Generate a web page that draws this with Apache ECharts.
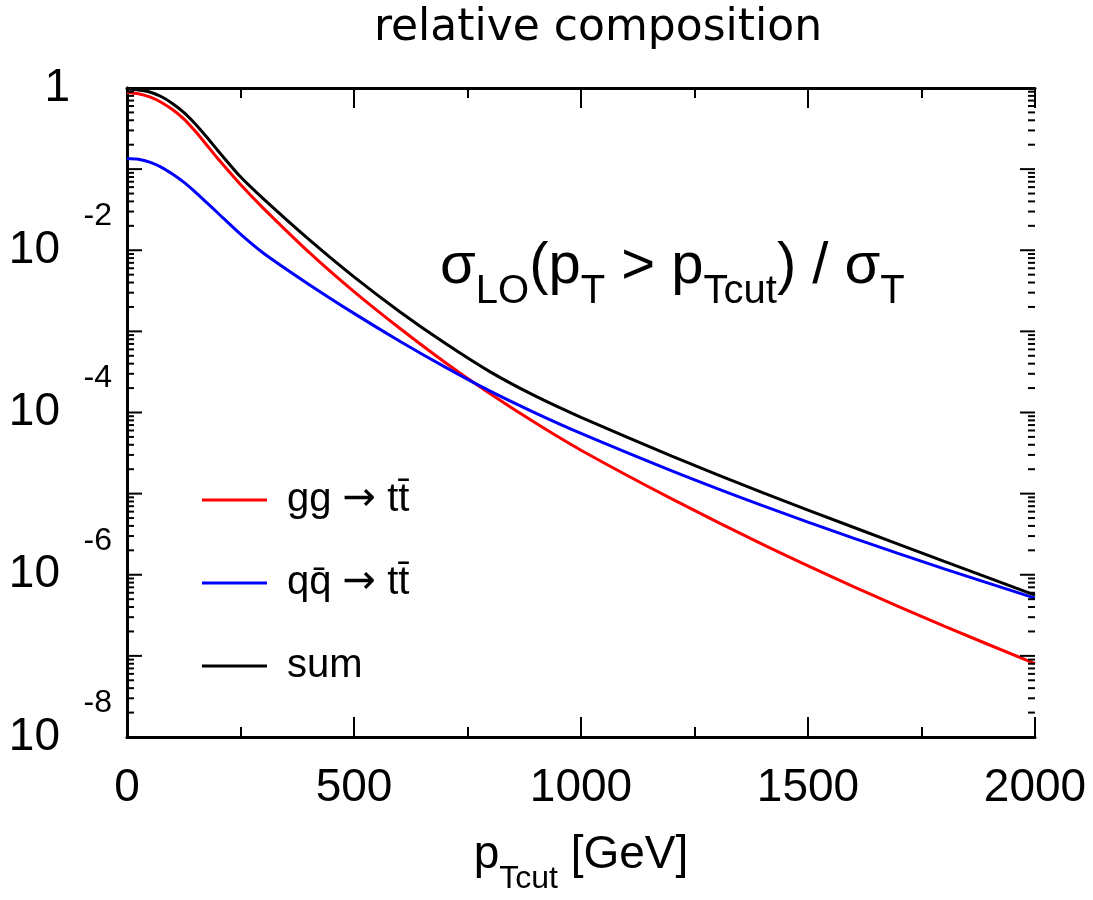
<!DOCTYPE html>
<html><head><meta charset="utf-8">
<script src="https://cdn.jsdelivr.net/npm/echarts@6/dist/echarts.min.js"></script>
<style>html,body{margin:0;padding:0;background:#fff}#c{width:1093px;height:900px}</style>
</head><body><div id="c"></div>
<script>
// ---- data ----
const pTcut = [0, 25, 50, 75, 100, 125, 150, 175, 200, 250, 300, 400, 500, 600, 700, 800, 900, 1000, 1200, 1400, 1600, 1800, 2000];
const ggValues = [0.881, 0.851, 0.776, 0.668, 0.543, 0.417, 0.295, 0.200, 0.135, 0.0646, 0.0331, 0.00955, 3.09e-3, 1.10e-3, 4.17e-4, 1.70e-4, 7.41e-5, 3.43e-5, 8.61e-6, 2.37e-6, 7.16e-7, 2.32e-7, 8.04e-8];
const qqValues = [0.135, 0.132, 0.122, 0.106, 0.0871, 0.0692, 0.0525, 0.0389, 0.0288, 0.0158, 0.00927, 0.00382, 1.667e-3, 7.62e-4, 3.65e-4, 1.83e-4, 9.82e-5, 5.52e-5, 1.91e-5, 7.11e-6, 2.83e-6, 1.18e-6, 5.15e-7];
const sumValues = [0.973, 0.944, 0.891, 0.785, 0.646, 0.501, 0.363, 0.251, 0.170, 0.0804, 0.0433, 0.01368, 4.69e-3, 1.762e-3, 7.18e-4, 3.17e-4, 1.589e-4, 8.73e-5, 2.89e-5, 1.026e-5, 3.85e-6, 1.462e-6, 5.61e-7];
const seriesNames = ['gg \u2192 tt\u0304', 'qq\u0304 \u2192 tt\u0304', 'sum'];
const seriesColors = ['#ff0000', '#0000ff', '#000000'];
const xTicks = [0, 500, 1000, 1500, 2000];
const yMajorTicks = [1e-8, 1e-7, 1e-6, 1e-5, 1e-4, 1e-3, 1e-2, 1e-1, 1];
const yLabelValues = [1e-8, 1e-6, 1e-4, 1e-2, 1];
const yMinorTicks = [];
for (let k = -8; k < 0; k++) for (let m = 2; m <= 9; m++) yMinorTicks.push(Number((m * Math.pow(10, k)).toPrecision(3)));

const FONT = 'Liberation Sans';
const chart = echarts.init(document.getElementById('c'), null, {renderer: 'canvas'});

function pairs(vals) { return pTcut.map((x, i) => [x, vals[i]]); }

function yLabel(v) {
  const e = Math.round(Math.log10(v));
  if (e === 0) return '{one|1}{sp1|}';
  return '{e|' + e + '}\n{b|10}{sp|}\n{e| }';
}

const legendRich = {
  'gg \u2192 tt\u0304': '{t|gg }{a|\u2192}{t| tt\u0304}',
  'qq\u0304 \u2192 tt\u0304': '{t|qq\u0304 }{a|\u2192}{t| tt\u0304}',
  'sum': '{t|sum}'
};

// y tick marks on both frame sides, placed through the axis scales
const tickData = yMajorTicks.map(v => [v, 15]).concat(yMinorTicks.map(v => [v, 7]));
function renderTick(params, api) {
  const v = api.value(0), len = api.value(1);
  const pl = api.coord([0, v]);
  const pr = api.coord([2000, v]);
  const st = {stroke: '#000', lineWidth: 2};
  return {type: 'group', children: [
    {type: 'line', shape: {x1: pl[0], y1: pl[1], x2: pl[0] + len, y2: pl[1]}, style: st},
    {type: 'line', shape: {x1: pr[0] - len, y1: pr[1], x2: pr[0], y2: pr[1]}, style: st}
  ]};
}

const yBase = {
  type: 'log', logBase: 10, min: 1e-8, max: 1, gridIndex: 0,
  splitLine: {show: false}, minorTick: {show: false}, minorSplitLine: {show: false}
};

const option = {
  backgroundColor: '#fff',
  animation: false,
  title: {
    text: 'relative composition', left: 593, top: 2, textAlign: 'center',
    textStyle: {fontFamily: 'DejaVu Sans', fontSize: 44, fontWeight: 'normal', color: '#000'}
  },
  grid: {left: 127, right: 58, top: 88, bottom: 158, containLabel: false},
  legend: {
    orient: 'vertical', left: 197, top: 472, itemGap: 37,
    itemWidth: 65, itemHeight: 3, icon: 'rect',
    data: seriesNames,
    formatter: n => legendRich[n],
    textStyle: {
      fontFamily: FONT, fontSize: 40, color: '#000', lineHeight: 46, padding: [0, 0, 0, 15],
      rich: {
        t: {fontFamily: FONT, fontSize: 40, color: '#000', lineHeight: 46},
        a: {fontFamily: 'DejaVu Sans', fontSize: 40, color: '#000', lineHeight: 46}
      }
    }
  },
  xAxis: [
    {
      type: 'value', min: 0, max: 2000, interval: 500, position: 'bottom',
      axisLine: {show: true, lineStyle: {color: '#000', width: 3}},
      axisTick: {show: true, inside: true, length: 20, lineStyle: {color: '#000', width: 2}},
      minorTick: {show: true, splitNumber: 2, length: 10, lineStyle: {color: '#000', width: 2}},
      splitLine: {show: false},
      axisLabel: {margin: 28, fontFamily: FONT, fontSize: 46, color: '#000',
        customValues: xTicks, formatter: v => String(v)},
      name: '{m|p}{s|Tcut}{m| [GeV]}', nameLocation: 'middle', nameGap: 95,
      nameTextStyle: {
        rich: {
          m: {fontFamily: FONT, fontSize: 46, color: '#000', verticalAlign: 'top'},
          s: {fontFamily: FONT, fontSize: 32, color: '#000', verticalAlign: 'top', padding: [31, 0, 0, 0]}
        }
      }
    },
    {
      type: 'value', min: 0, max: 2000, interval: 500, position: 'top',
      axisLine: {show: true, lineStyle: {color: '#000', width: 3}},
      axisTick: {show: true, inside: true, length: 20, lineStyle: {color: '#000', width: 2}},
      minorTick: {show: true, splitNumber: 2, length: 10, lineStyle: {color: '#000', width: 2}},
      splitLine: {show: false}, axisLabel: {show: false}
    }
  ],
  yAxis: [
    Object.assign({}, yBase, {
      position: 'left',
      axisLine: {show: true, lineStyle: {color: '#000', width: 3}},
      axisTick: {show: false},
      axisLabel: {
        show: true, margin: 15, customValues: yLabelValues, formatter: yLabel, align: 'right', verticalAlign: 'middle',
        rich: {
          e: {fontFamily: FONT, fontSize: 32, color: '#000', lineHeight: 22, align: 'right'},
          b: {fontFamily: FONT, fontSize: 46, color: '#000', lineHeight: 46},
          sp: {width: 52, lineHeight: 46},
          one: {fontFamily: FONT, fontSize: 46, color: '#000', lineHeight: 46},
          sp1: {width: 42, lineHeight: 46}
        }
      }
    }),
    Object.assign({}, yBase, {
      position: 'right',
      axisLine: {show: true, lineStyle: {color: '#000', width: 3}},
      axisTick: {show: false},
      axisLabel: {show: false}
    })
  ],
  graphic: [{
    type: 'text', left: 440, top: 238, z: 10,
    style: {
      text: '{m|\u03c3}{s|LO}{m|(p}{s|T}{m| > p}{s|Tcut}{m|) / \u03c3}{s|T}',
      rich: {
        m: {fontFamily: FONT, fontSize: 58, fill: '#000', verticalAlign: 'top'},
        s: {fontFamily: FONT, fontSize: 40, fill: '#000', verticalAlign: 'top', padding: [34, 0, 0, 0]}
      }
    }
  }],
  series: [
    {name: seriesNames[0], type: 'line', data: pairs(ggValues)},
    {name: seriesNames[1], type: 'line', data: pairs(qqValues)},
    {name: seriesNames[2], type: 'line', data: pairs(sumValues)}
  ].map((s, i) => Object.assign(s, {
    xAxisIndex: 0, yAxisIndex: 0, showSymbol: false, symbol: 'none', smooth: 0.25,
    color: seriesColors[i], lineStyle: {color: seriesColors[i], width: 3}
  })).concat([{
    name: 'yticks', type: 'custom', xAxisIndex: 0, yAxisIndex: 0, silent: true, clip: false,
    renderItem: renderTick, data: tickData, z: 5
  }])
};
chart.setOption(option);
</script></body></html>
